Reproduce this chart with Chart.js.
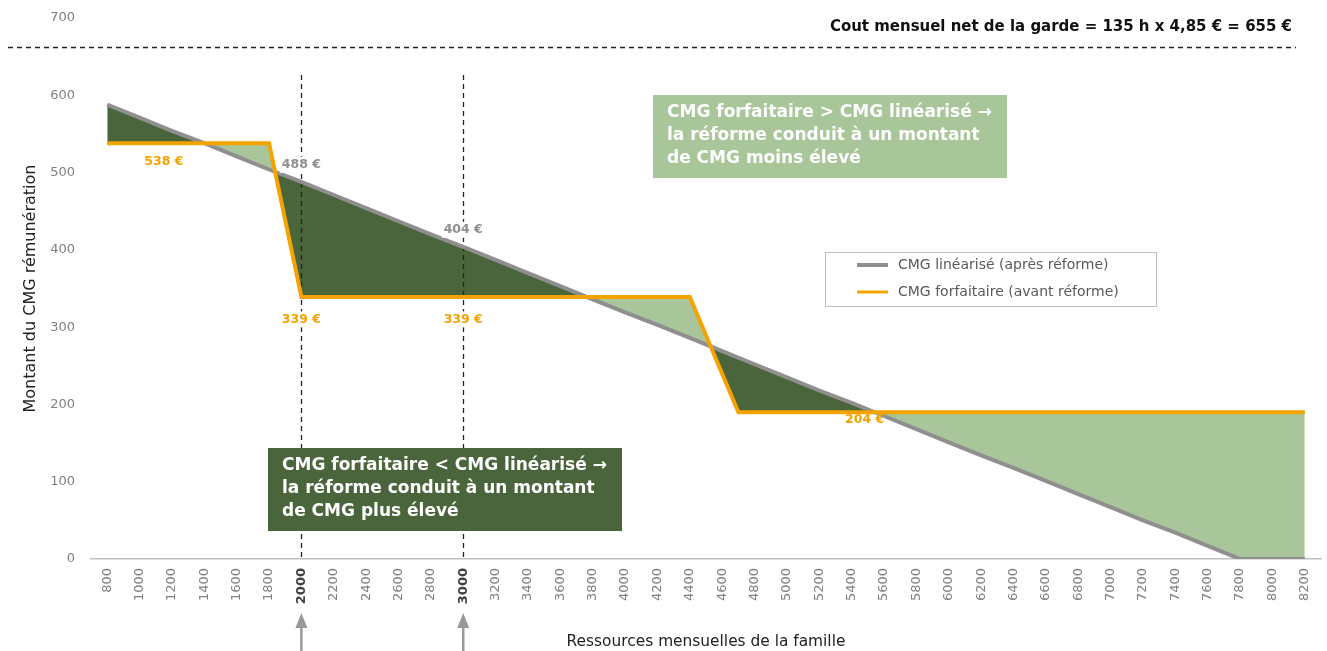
<!DOCTYPE html>
<html>
<head>
<meta charset="utf-8">
<script src="https://cdn.jsdelivr.net/npm/chart.js@4"></script>
<style>
  html, body { margin: 0; padding: 0; background: #fff; }
  #wrap { width: 1327px; height: 651px; position: relative; }
</style>
</head>
<body>
<div id="wrap"><canvas id="cmgChart"></canvas></div>
<script>
// ressources mensuelles (axe x)
const xTicks = [800, 1000, 1200, 1400, 1600, 1800, 2000, 2200, 2400, 2600, 2800, 3000, 3200, 3400, 3600, 3800,
    4000, 4200, 4400, 4600, 4800, 5000, 5200, 5400, 5600, 5800, 6000, 6200, 6400, 6600, 6800, 7000,
    7200, 7400, 7600, 7800, 8000, 8200]
const highlightTicks = [2000, 3000]

// CMG linéarisé (après réforme)
const linearX = xTicks
const linearY = [588, 571, 554, 538, 521, 504, 488, 471, 454, 437, 420, 404, 387, 370, 353, 336,
    319, 303, 286, 269, 252, 235, 218, 202, 185, 168, 151, 134, 118, 101, 84, 67,
    50, 34, 17, 0, 0, 0]

// CMG forfaitaire (avant réforme)
const flatX = [800, 1800, 2000, 4400, 4700, 8200]
const flatY = [538, 538, 339, 339, 190, 190]

// montants affichés
const labelX = [1150, 2000, 3000, 2000, 3000, 5480]
const labelY = [514, 510, 426, 310, 310, 180]
const labelValues = [538, 488, 404, 339, 339, 204]
const labelSeries = ["flat", "linear", "linear", "flat", "flat", "flat"]

const costLevel = 663
const yTicksMax = 700

const GREY = "#8F8F8F"
const ORANGE = "#F5A300"
const DARK_GREEN = "#4A653C"
const LIGHT_GREEN = "#A9C69A"
const FONT = "'DejaVu Sans', sans-serif"

function isHighlight(c) {
    return !!(c && c.tick && highlightTicks.includes(c.tick.value))
}

function dashedLine(ctx, x1, y1, x2, y2) {
    ctx.save()
    ctx.strokeStyle = "#222"
    ctx.lineWidth = 1.3
    ctx.setLineDash([5, 4])
    ctx.beginPath()
    ctx.moveTo(x1, y1)
    ctx.lineTo(x2, y2)
    ctx.stroke()
    ctx.restore()
}

function textBox(ctx, x, y, w, h, color, lines) {
    ctx.save()
    ctx.fillStyle = color
    ctx.fillRect(x, y, w, h)
    ctx.fillStyle = "#fff"
    ctx.font = "bold 17px " + FONT
    ctx.textBaseline = "middle"
    ctx.textAlign = "left"
    lines.forEach((line, i) => ctx.fillText(line, x + 14, y + 18 + i * 23))
    ctx.restore()
}

const behindPlugin = {
    id: "behind",
    beforeDatasetsDraw(chart) {
        const { ctx, scales } = chart
        highlightTicks.forEach(v => {
            const px = Math.round(scales.x.getPixelForValue(v)) + 0.5
            dashedLine(ctx, px, 75, px, scales.y.getPixelForValue(0))
        })
    }
}

const overlayPlugin = {
    id: "overlay",
    afterDraw(chart) {
        const { ctx, scales } = chart

        // ligne du coût de la garde
        const cy = Math.round(scales.y.getPixelForValue(costLevel)) + 0.5
        dashedLine(ctx, 8, cy, 1296, cy)
        ctx.save()
        const costText = "Cout mensuel net de la garde = 135 h x 4,85 € = 655 €"
        ctx.font = "bold 14px " + FONT
        const size = 14 * 462 / ctx.measureText(costText).width
        ctx.font = "bold " + size.toFixed(2) + "px " + FONT
        ctx.fillStyle = "#111"
        ctx.textAlign = "right"
        ctx.textBaseline = "middle"
        ctx.fillText(costText, 1292, 27)
        ctx.restore()

        // montants
        ctx.save()
        ctx.font = "bold 12.5px " + FONT
        ctx.textAlign = "center"
        ctx.textBaseline = "middle"
        labelValues.forEach((v, i) => {
            const t = v + " €"
            const lx = scales.x.getPixelForValue(labelX[i])
            const ly = scales.y.getPixelForValue(labelY[i])
            if (highlightTicks.includes(labelX[i])) {
                const w = ctx.measureText(t).width
                ctx.fillStyle = "#fff"
                ctx.fillRect(lx - w / 2 - 2, ly - 8, w + 4, 16)
            }
            ctx.fillStyle = labelSeries[i] === "flat" ? ORANGE : GREY
            ctx.fillText(t, lx, ly)
        })
        ctx.restore()

        textBox(ctx, 653, 95, 354, 83, LIGHT_GREEN, [
            "CMG forfaitaire > CMG linéarisé →",
            "la réforme conduit à un montant",
            "de CMG moins élevé"
        ])
        textBox(ctx, 268, 448, 354, 83, DARK_GREEN, [
            "CMG forfaitaire < CMG linéarisé →",
            "la réforme conduit à un montant",
            "de CMG plus élevé"
        ])

        // légende
        ctx.save()
        ctx.strokeStyle = "#BFBFBF"
        ctx.lineWidth = 1
        ctx.strokeRect(825.5, 252.5, 331, 54)
        const items = [chart.data.datasets[1], chart.data.datasets[0]]
        items.forEach((ds, i) => {
            const ly = 265 + i * 27
            ctx.strokeStyle = ds.borderColor
            ctx.lineWidth = i === 0 ? 4 : 3
            ctx.beginPath()
            ctx.moveTo(857, ly)
            ctx.lineTo(888, ly)
            ctx.stroke()
            ctx.fillStyle = "#595959"
            ctx.font = "14px " + FONT
            ctx.textBaseline = "middle"
            ctx.fillText(ds.label, 898, ly)
        })
        ctx.restore()

        // flèches
        ctx.save()
        ctx.fillStyle = "#999"
        ctx.strokeStyle = "#999"
        highlightTicks.forEach(v => {
            const px = scales.x.getPixelForValue(v)
            ctx.lineWidth = 2.5
            ctx.beginPath()
            ctx.moveTo(px, 626)
            ctx.lineTo(px, 651)
            ctx.stroke()
            ctx.beginPath()
            ctx.moveTo(px, 613)
            ctx.lineTo(px - 6, 628)
            ctx.lineTo(px + 6, 628)
            ctx.closePath()
            ctx.fill()
        })
        ctx.restore()
    }
}

const ctx = document.getElementById("cmgChart")

new Chart(ctx.getContext("2d"), {
    type: "line",
    data: {
        datasets: [
            {
                label: "CMG forfaitaire (avant réforme)",
                data: flatX.map((x, i) => ({ x, y: flatY[i] })),
                borderColor: ORANGE,
                borderWidth: 4,
                pointRadius: 0,
                tension: 0,
                order: 0,
                fill: { target: 1, above: LIGHT_GREEN, below: DARK_GREEN }
            },
            {
                label: "CMG linéarisé (après réforme)",
                data: linearX.map((x, i) => ({ x, y: linearY[i] })),
                borderColor: GREY,
                borderWidth: 4,
                pointRadius: 0,
                tension: 0,
                order: 1,
                fill: false
            }
        ]
    },
    options: {
        responsive: true,
        maintainAspectRatio: false,
        animation: false,
        layout: { padding: { top: 18, right: 6, left: 0, bottom: 0 } },
        plugins: {
            legend: { display: false },
            tooltip: { enabled: false },
            filler: { drawTime: "beforeDatasetsDraw" }
        },
        scales: {
            x: {
                type: "linear",
                min: 700,
                max: 8300,
                afterBuildTicks: axis => { axis.ticks = xTicks.map(v => ({ value: v })) },
                afterFit: s => { s.height = 92; s.paddingLeft = 0; s.paddingRight = 0 },
                grid: { display: false, drawTicks: false },
                border: { color: "#BFBFBF", width: 1.5 },
                ticks: {
                    autoSkip: false,
                    minRotation: 90,
                    maxRotation: 90,
                    padding: 9,
                    callback: v => String(v),
                    color: c => isHighlight(c) ? "#404040" : "#808080",
                    font: c => ({ family: FONT, size: 13, weight: isHighlight(c) ? "bold" : "normal" })
                },
                title: {
                    display: true,
                    text: "Ressources mensuelles de la famille",
                    color: "#222",
                    font: { family: FONT, size: 15.4 },
                    padding: { top: 0, bottom: 0 }
                }
            },
            y: {
                min: 0,
                max: yTicksMax,
                afterFit: s => { s.width = 91; s.paddingTop = 0; s.paddingBottom = 0 },
                grid: { display: false, drawTicks: false },
                border: { display: false },
                ticks: {
                    stepSize: 100,
                    padding: 16,
                    color: "#808080",
                    font: { family: FONT, size: 13 }
                },
                title: {
                    display: true,
                    text: "Montant du CMG rémunération",
                    color: "#222",
                    font: { family: FONT, size: 16 },
                    padding: { top: 21, bottom: 0 }
                }
            }
        }
    },
    plugins: [behindPlugin, overlayPlugin]
})
</script>
</body>
</html>
